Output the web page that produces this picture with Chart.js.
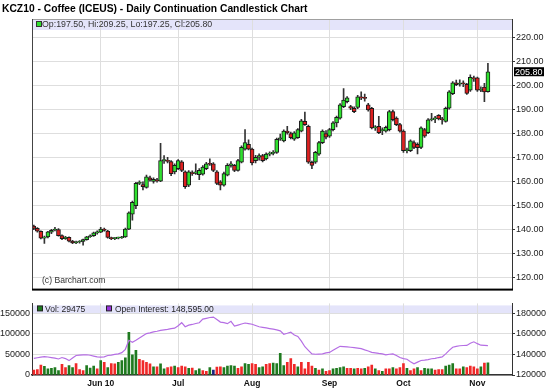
<!DOCTYPE html>
<html>
<head>
<meta charset="utf-8">
<script src="https://cdn.jsdelivr.net/npm/chart.js@4.4.0/dist/chart.umd.min.js"></script>
<style>
  html, body { margin: 0; padding: 0; background: #fff; }
  #wrap { position: relative; width: 550px; height: 392px; overflow: hidden; }
  #priceChart { position: absolute; left: 0; top: 0; }
  #volChart { position: absolute; left: 0; top: 296px; }
</style>
</head>
<body>
<div id="wrap">
  <canvas id="priceChart" width="550" height="296"></canvas>
  <canvas id="volChart" width="550" height="96"></canvas>
</div>
<script>
// trading-day index of the first session of each month (0 = May 4 2010)
const monthIdx = [19, 41, 62, 84, 105, 126];
const monthLabels = ["Jun 10", "Jul", "Aug", "Sep", "Oct", "Nov"];
const priceTicks = [120, 130, 140, 150, 160, 170, 180, 190, 200, 210, 220];
const volTicks = [0, 50000, 100000, 150000];
const oiTicks = [120000, 140000, 160000, 180000];

const opens = [141.5, 140.6, 139.4, 136.5, 137.0, 139.0, 139.9, 140.1, 137.6, 136.3,
  136.9, 135.3, 134.5, 134.9, 135.2, 135.9, 137.1, 137.5, 138.7, 139.0,
  140.3, 139.5, 136.8, 136.3, 136.5, 136.7, 137.0, 140.3, 146.5, 150.0,
  159.3, 158.8, 157.6, 161.6, 160.1, 160.8, 160.2, 168.8, 168.9, 168.4,
  164.1, 165.4, 168.3, 164.1, 158.6, 163.8, 163.5, 162.9, 163.2, 165.4,
  167.5, 167.5, 164.1, 160.0, 158.6, 162.7, 166.8, 166.8, 164.7, 168.1,
  173.6, 175.6, 173.6, 168.8, 170.2, 170.9, 169.5, 171.5, 171.8, 172.2,
  177.7, 177.0, 181.1, 180.0, 177.7, 178.3, 181.1, 185.1, 183.1, 168.1,
  168.1, 171.5, 176.3, 180.0, 179.0, 181.7, 184.5, 186.5, 191.3, 193.3,
  191.3, 190.6, 190.9, 195.0, 194.9, 192.0, 190.6, 182.4, 183.1, 181.3,
  181.1, 181.7, 189.2, 186.5, 183.8, 181.1, 172.9, 172.9, 176.3, 175.6,
  174.3, 181.7, 180.4, 185.8, 186.2, 187.6, 186.2, 185.1, 190.6, 196.7,
  201.2, 200.6, 201.0, 200.6, 198.1, 203.0, 203.3, 198.1, 199.4, 197.5];
const highs = [142.0, 140.9, 139.6, 137.4, 139.4, 140.2, 141.0, 140.5, 137.9, 137.3,
  137.1, 135.6, 135.3, 135.5, 136.1, 137.3, 137.9, 139.0, 139.6, 141.0,
  140.7, 139.8, 137.0, 136.8, 137.0, 137.3, 140.7, 147.5, 152.0, 159.8,
  160.4, 160.0, 162.8, 162.4, 161.6, 161.4, 176.0, 170.9, 170.2, 168.8,
  167.5, 169.2, 168.8, 164.5, 164.6, 164.5, 167.5, 165.5, 166.7, 168.1,
  169.5, 168.0, 164.6, 160.5, 164.0, 167.6, 168.4, 167.2, 169.3, 175.0,
  181.7, 177.4, 174.0, 171.0, 171.6, 171.4, 172.0, 172.5, 173.0, 178.2,
  179.8, 181.6, 183.1, 180.7, 180.9, 182.1, 186.0, 189.0, 183.6, 168.6,
  172.7, 176.8, 181.6, 181.3, 182.2, 185.0, 187.3, 192.5, 198.8, 195.5,
  191.8, 191.2, 196.0, 197.4, 196.5, 192.6, 191.0, 183.4, 187.2, 182.4,
  183.2, 189.7, 189.8, 187.0, 184.3, 181.6, 174.0, 177.5, 177.0, 176.2,
  182.9, 182.2, 186.3, 188.5, 187.2, 188.0, 186.8, 191.1, 197.9, 201.7,
  202.3, 202.4, 202.0, 201.0, 204.5, 204.0, 203.6, 199.5, 201.0, 209.25];
const lows = [140.0, 139.0, 136.2, 134.3, 136.6, 138.4, 139.5, 137.3, 135.9, 136.0,
  135.0, 134.2, 134.2, 134.4, 133.6, 135.7, 136.8, 137.2, 138.2, 138.8,
  139.4, 136.5, 135.9, 135.9, 136.2, 136.4, 136.8, 140.0, 144.0, 148.8,
  158.8, 156.6, 157.3, 160.2, 159.4, 159.8, 160.0, 167.6, 167.8, 162.5,
  163.3, 165.0, 164.2, 157.2, 158.0, 162.6, 163.0, 160.9, 162.7, 165.0,
  166.8, 164.2, 158.8, 156.6, 158.2, 162.4, 166.1, 164.2, 164.4, 167.8,
  173.1, 173.2, 167.0, 167.8, 169.0, 168.3, 169.1, 170.8, 171.2, 171.8,
  177.2, 176.6, 179.8, 177.8, 177.2, 178.0, 180.7, 183.4, 167.6, 165.4,
  167.6, 171.0, 175.8, 177.8, 178.5, 181.2, 182.8, 186.0, 190.8, 192.8,
  190.0, 188.8, 190.4, 194.2, 193.5, 189.4, 182.0, 181.4, 180.0, 179.6,
  180.6, 181.2, 185.3, 183.3, 180.6, 172.2, 172.0, 172.5, 173.8, 171.6,
  173.8, 178.5, 180.0, 185.3, 184.6, 185.7, 184.0, 184.8, 190.2, 196.3,
  200.0, 199.8, 199.6, 196.4, 197.6, 201.8, 197.6, 197.5, 193.3, 197.25];
const closes = [140.6, 139.4, 136.5, 137.0, 139.1, 139.8, 140.1, 137.6, 136.3, 136.9,
  135.3, 134.5, 134.9, 135.2, 135.9, 137.1, 137.5, 138.7, 139.2, 140.3,
  139.7, 136.8, 136.3, 136.5, 136.7, 137.0, 140.3, 147.1, 151.4, 159.3,
  159.5, 157.9, 162.0, 160.7, 161.0, 160.4, 168.8, 169.0, 168.5, 163.4,
  166.8, 168.8, 164.7, 157.9, 164.1, 163.4, 164.1, 164.7, 166.1, 167.5,
  167.3, 164.7, 159.3, 158.6, 163.4, 166.8, 167.5, 164.7, 168.8, 174.3,
  176.3, 173.6, 167.8, 170.2, 170.9, 168.8, 171.5, 171.8, 172.2, 177.7,
  178.3, 181.1, 180.4, 178.3, 180.4, 181.7, 185.4, 183.8, 168.1, 166.8,
  172.2, 176.3, 181.1, 178.6, 181.7, 184.5, 186.8, 192.0, 194.0, 194.9,
  190.6, 189.2, 195.4, 194.9, 194.7, 189.9, 182.4, 182.6, 180.4, 181.7,
  182.7, 189.2, 185.8, 183.8, 181.1, 172.9, 173.2, 177.0, 174.3, 174.2,
  182.4, 179.0, 185.8, 186.2, 186.5, 186.2, 185.8, 190.6, 197.4, 201.2,
  200.4, 201.0, 200.8, 196.8, 203.5, 202.8, 198.1, 198.5, 197.4, 205.8];

const volume = [12000, 13000, 24000, 21000, 15000, 16000, 18000, 11000, 26000, 18000,
  23000, 18000, 28000, 13000, 11000, 23000, 17000, 22000, 15000, 35000,
  31000, 18000, 28000, 27000, 31000, 35000, 42000, 104000, 49000, 60000,
  38000, 35000, 31000, 27000, 20000, 20000, 27000, 15000, 18000, 20000,
  22000, 18000, 22000, 20000, 16000, 17000, 11000, 15000, 11000, 9000,
  18000, 12000, 19000, 20000, 18000, 22000, 23000, 22000, 16000, 20000,
  28000, 26000, 28000, 26000, 18000, 20000, 26000, 28000, 29000, 28000,
  53000, 23000, 31000, 40000, 26000, 20000, 31000, 15000, 31000, 22000,
  16000, 12000, 15000, 9000, 11000, 15000, 16000, 18000, 20000, 16000,
  16000, 15000, 16000, 15000, 16000, 20000, 24000, 15000, 11000, 9000,
  15000, 15000, 18000, 15000, 18000, 28000, 16000, 11000, 15000, 18000,
  11000, 16000, 15000, 15000, 12000, 13000, 13000, 22000, 24000, 28000,
  15000, 15000, 20000, 18000, 22000, 20000, 15000, 20000, 29000, 29475];
// u = up day, d = down day, n = unchanged
const volDir = ["d", "d", "d", "u", "u", "u", "u", "u", "d", "d",
  "u", "u", "d", "d", "d", "u", "u", "u", "d", "u",
  "d", "u", "d", "d", "u", "u", "u", "u", "u", "u",
  "d", "d", "d", "d", "u", "d", "u", "u", "d", "d",
  "u", "d", "d", "d", "u", "d", "u", "u", "d", "d",
  "u", "n", "d", "d", "u", "u", "u", "u", "d", "d",
  "u", "u", "d", "d", "u", "u", "d", "d", "u", "u",
  "u", "u", "d", "d", "d", "u", "d", "d", "d", "d",
  "u", "d", "u", "d", "d", "u", "u", "u", "u", "d",
  "d", "u", "d", "d", "u", "d", "d", "u", "d", "u",
  "d", "d", "u", "d", "d", "d", "u", "d", "d", "u",
  "d", "u", "u", "u", "d", "d", "d", "u", "u", "u",
  "d", "d", "u", "d", "d", "d", "d", "u", "d", "u"];
const openInterest = [136200, 136800, 137400, 137800, 137500, 137000, 136500, 135600, 137000, 136000,
  134000, 136500, 139000, 139300, 139600, 139700, 139200, 138400, 137600, 137400,
  137600, 139000, 139400, 140000, 140600, 141800, 145000, 153800, 151800, 153800,
  156000, 158200, 160300, 161000, 161900, 162600, 163500, 164000, 164500, 165200,
  165600, 168000, 170900, 167000, 168500, 169200, 170100, 170900, 174400, 175200,
  176000, 176400, 174000, 171500, 171000, 170000, 172300, 167600, 168600, 169600,
  170600, 170000, 169400, 168200, 167000, 166400, 165800, 165200, 164600, 164000,
  163000, 159700, 160600, 161700, 159000, 157500, 153000, 147500, 144000, 140600,
  140200, 140400, 140600, 141500, 142000, 144000, 146000, 147900, 147600, 147300,
  147000, 146600, 146200, 145600, 144400, 143400, 142000, 141500, 141000, 140600,
  139600, 140200, 140600, 139000, 137000, 136000, 135300, 133000, 130900, 132500,
  134100, 134500, 135000, 135800, 136200, 137000, 137600, 140600, 144000, 147000,
  147800, 148500, 148700, 148800, 150900, 152300, 150500, 149000, 148800, 148595];

// ---- look ----
const FONT = "'Liberation Sans', Arial, sans-serif";
const GRID = "#dedede";
const BAND = "#e4e4fa";
const UP = "#2fe02f";
const DOWN = "#dd2020";
const VOL_UP = "#1f7a1f";
const VOL_DOWN = "#f02828";
const VOL_FLAT = "#1a237e";
const OI_COLOR = "#b56ee4";
const X_MIN = -0.52;
const X_MAX = 135.84;

Chart.defaults.font.family = FONT;
Chart.defaults.color = "#222";

const idx = closes.map((c, i) => i);
const n = closes.length - 1;

const wickData = idx.map(i => ({ x: i, y: [lows[i], highs[i]] }));
const bodyData = idx.map(i => ({ x: i, y: [Math.min(opens[i], closes[i]), Math.max(opens[i], closes[i])] }));
const bodyColors = idx.map(i => closes[i] >= opens[i] ? UP : DOWN);
const volData = idx.map(i => ({ x: i, y: volume[i] }));
const volColors = volDir.map(d => d === "u" ? VOL_UP : (d === "d" ? VOL_DOWN : VOL_FLAT));
const oiData = idx.map(i => ({ x: i, y: openInterest[i] }));

function monthTicks(scale) {
  scale.ticks = monthIdx.map(v => ({ value: v }));
}

var pricePanel = {
  id: "pricePanel",
  beforeDraw: function (chart) {
    var ctx = chart.ctx, a = chart.chartArea;
    ctx.save();
    ctx.fillStyle = BAND;
    ctx.fillRect(a.left, a.top, a.right - a.left, 11);
    ctx.restore();
  },
  afterDraw: function (chart) {
    var ctx = chart.ctx, a = chart.chartArea;
    ctx.save();
    // title
    ctx.fillStyle = "#000";
    ctx.font = "bold 10.3px " + FONT;
    ctx.textBaseline = "alphabetic";
    ctx.fillText("KCZ10 - Coffee (ICEUS) - Daily Continuation Candlestick Chart", 2, 11.5);

    // frame
    ctx.fillStyle = "#a0a0a0";
    ctx.fillRect(a.left, a.top, a.right - a.left, 1);
    ctx.fillStyle = "#444";
    ctx.fillRect(a.left, a.top, 1, a.bottom - a.top);
    ctx.fillStyle = "#000";
    ctx.fillRect(a.left, a.bottom - 1, a.right - a.left + 1, 2);

    // legend line with the last bar
    ctx.fillStyle = "#333";
    ctx.fillRect(a.left + 4, a.top + 2, 6, 6);
    ctx.fillStyle = UP;
    ctx.fillRect(a.left + 5, a.top + 3, 4, 4);
    ctx.fillStyle = "#333";
    ctx.font = "8.8px " + FONT;
    ctx.fillText("Op:" + opens[n].toFixed(2) + ", Hi:" + highs[n].toFixed(2) +
      ", Lo:" + lows[n].toFixed(2) + ", Cl:" + closes[n].toFixed(2), a.left + 10, a.top + 8);

    ctx.font = "8.6px " + FONT;
    ctx.fillText("(c) Barchart.com", a.left + 10, a.bottom - 7);

    // last price marker on the axis
    var y = chart.scales.y.getPixelForValue(closes[n]);
    ctx.fillStyle = "#000";
    ctx.fillRect(a.right + 2, y - 4.5, 30, 9);
    ctx.fillStyle = "#fff";
    ctx.font = "9px " + FONT;
    ctx.textBaseline = "middle";
    ctx.fillText(closes[n].toFixed(2), a.right + 3, y + 0.5);
    ctx.restore();
  },
};

var volPanel = {
  id: "volPanel",
  beforeDraw: function (chart) {
    var ctx = chart.ctx, a = chart.chartArea;
    ctx.save();
    ctx.fillStyle = BAND;
    ctx.fillRect(a.left, a.top + 2, a.right - a.left, 8);
    ctx.restore();
  },
  afterDraw: function (chart) {
    var ctx = chart.ctx, a = chart.chartArea;
    ctx.save();
    ctx.font = "8.5px " + FONT;
    ctx.textBaseline = "alphabetic";
    ctx.fillStyle = "#222";
    ctx.fillRect(a.left + 5, a.top + 2, 6, 6);
    ctx.fillStyle = VOL_UP;
    ctx.fillRect(a.left + 6, a.top + 3, 4, 4);
    ctx.fillStyle = "#222";
    ctx.fillText("Vol: " + volume[n], a.left + 13, a.top + 8.5);

    ctx.fillRect(a.left + 74, a.top + 2, 6, 6);
    ctx.fillStyle = "#9933dd";
    ctx.fillRect(a.left + 75, a.top + 3, 4, 4);
    ctx.fillStyle = "#222";
    ctx.fillText("Open Interest: " + openInterest[n].toLocaleString("en-US", { minimumFractionDigits: 2 }),
      a.left + 83, a.top + 8.5);
    ctx.restore();
  },
};

// price panel
new Chart(document.getElementById("priceChart"), {
  type: "bar",
  data: {
    datasets: [
      {
        data: wickData,
        backgroundColor: "#333",
        barThickness: 1,
        grouped: false,
        order: 2,
      },
      {
        data: bodyData,
        backgroundColor: bodyColors,
        borderColor: "#1a1a1a",
        borderWidth: 1,
        borderSkipped: false,
        barThickness: 4,
        minBarLength: 1,
        grouped: false,
        order: 1,
      },
    ],
  },
  options: {
    responsive: false,
    animation: false,
    events: [],
    layout: { padding: { top: 19, left: 32, right: 0, bottom: 0 } },
    plugins: { legend: { display: false }, tooltip: { enabled: false } },
    scales: {
      x: {
        type: "linear",
        min: X_MIN,
        max: X_MAX,
        offset: false,
        afterBuildTicks: monthTicks,
        ticks: { display: false },
        grid: { color: GRID, drawTicks: false, offset: false },
        border: { display: false },
        afterFit: function (s) { s.height = 1; },
      },
      y: {
        position: "right",
        min: 115.1,
        max: 227.75,
        afterBuildTicks: function (s) { s.ticks = priceTicks.map(v => ({ value: v })); },
        ticks: {
          font: { size: 9 },
          color: "#222",
          padding: 1,
          callback: function (v) { return v.toFixed(2); },
        },
        grid: { color: GRID, tickColor: "#333", tickLength: 3 },
        border: { color: "#333" },
        afterFit: function (s) { s.width = 38; },
      },
    },
  },
  plugins: [pricePanel],
});

// volume / open interest panel
new Chart(document.getElementById("volChart"), {
  type: "bar",
  data: {
    datasets: [
      {
        type: "line",
        data: oiData,
        yAxisID: "yOI",
        borderColor: OI_COLOR,
        borderWidth: 1.2,
        pointRadius: 0,
        tension: 0,
        order: 0,
      },
      {
        data: volData,
        yAxisID: "yVol",
        backgroundColor: volColors,
        barThickness: 2,
        order: 1,
      },
    ],
  },
  options: {
    responsive: false,
    animation: false,
    events: [],
    layout: { padding: 0 },
    plugins: { legend: { display: false }, tooltip: { enabled: false } },
    scales: {
      x: {
        type: "linear",
        min: X_MIN,
        max: X_MAX,
        offset: false,
        afterBuildTicks: monthTicks,
        ticks: {
          font: { size: 8.5, weight: "bold" },
          color: "#111",
          padding: 4,
          maxRotation: 0,
          autoSkip: false,
          callback: function (v) { return monthLabels[monthIdx.indexOf(v)]; },
        },
        grid: { color: GRID, drawTicks: false, offset: false },
        border: { color: "#333", width: 1.5 },
        afterFit: function (s) { s.height = 17; },
      },
      yVol: {
        position: "left",
        min: 0,
        max: 174260,
        afterBuildTicks: function (s) { s.ticks = volTicks.map(v => ({ value: v })); },
        ticks: {
          font: { size: 9 },
          color: "#222",
          padding: 2,
          callback: function (v) { return String(v); },
        },
        grid: { color: GRID, drawTicks: false },
        border: { color: "#333" },
        afterFit: function (s) { s.width = 32; },
      },
      yOI: {
        position: "right",
        min: 120000,
        max: 189700,
        afterBuildTicks: function (s) { s.ticks = oiTicks.map(v => ({ value: v })); },
        ticks: {
          font: { size: 9 },
          color: "#222",
          padding: 1,
          callback: function (v) { return String(v); },
        },
        grid: { drawOnChartArea: false, tickColor: "#333", tickLength: 3 },
        border: { color: "#333" },
        afterFit: function (s) { s.width = 38; },
      },
    },
  },
  plugins: [volPanel],
});
</script>
</body>
</html>
